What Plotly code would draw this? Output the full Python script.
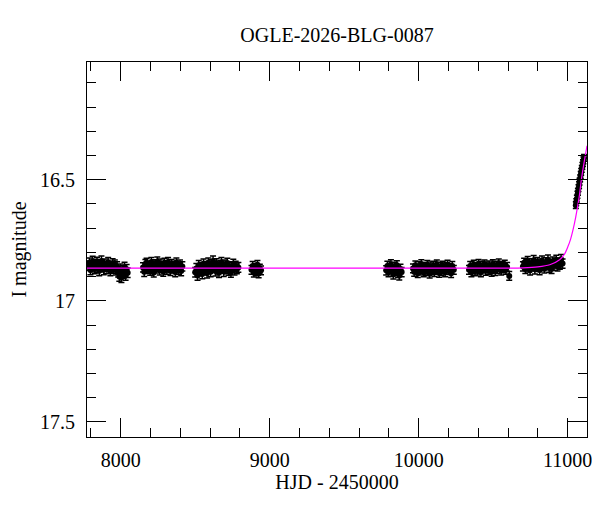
import plotly.graph_objects as go

# ---------------- data ----------------
t_s1 = [7782, 7790, 7797, 7805, 7812, 7818, 7826, 7833, 7841, 7848, 7856, 7863, 7871, 7878, 7886, 7893,
        7901, 7908, 7916, 7923, 7931, 7938, 7946, 7953, 7961, 7968, 7976, 7983, 7991, 7998, 8005, 8012,
        8019, 8026, 8033, 8040, 8047]
m_s1 = [16.855, 16.843, 16.872, 16.861, 16.836, 16.855, 16.868, 16.848, 16.840, 16.863, 16.876, 16.850,
        16.835, 16.860, 16.872, 16.847, 16.858, 16.868, 16.841, 16.856, 16.876, 16.861, 16.846, 16.867,
        16.851, 16.873, 16.859, 16.882, 16.899, 16.868, 16.904, 16.874, 16.887, 16.861, 16.895, 16.870, 16.884]

t_s2 = [8150, 8158, 8166, 8174, 8182, 8190, 8198, 8206, 8214, 8222, 8230, 8238, 8246, 8254, 8262, 8270,
        8278, 8286, 8294, 8302, 8310, 8318, 8326, 8334, 8342, 8350, 8358, 8366, 8374, 8382, 8390, 8398,
        8406, 8414]
m_s2 = [16.862, 16.880, 16.848, 16.843, 16.868, 16.856, 16.875, 16.840, 16.860, 16.883, 16.849, 16.866,
        16.838, 16.858, 16.874, 16.846, 16.863, 16.879, 16.843, 16.857, 16.871, 16.840, 16.862, 16.876,
        16.848, 16.866, 16.855, 16.881, 16.842, 16.861, 16.872, 16.850, 16.877, 16.858]

t_s3 = [8500, 8508, 8516, 8524, 8532, 8540, 8548, 8556, 8564, 8572, 8580, 8588, 8596, 8604, 8612, 8620,
        8628, 8636, 8644, 8652, 8660, 8668, 8676, 8684, 8692, 8700, 8708, 8716, 8724, 8732, 8740, 8748,
        8756, 8764, 8772, 8780, 8790]
m_s3 = [16.882, 16.866, 16.895, 16.853, 16.876, 16.862, 16.889, 16.847, 16.870, 16.858, 16.886, 16.843,
        16.866, 16.880, 16.850, 16.835, 16.861, 16.877, 16.846, 16.869, 16.884, 16.854, 16.841, 16.865,
        16.879, 16.851, 16.868, 16.844, 16.874, 16.859, 16.883, 16.862, 16.848, 16.873, 16.856, 16.868, 16.862]

t_s4 = [8878, 8886, 8894, 8902, 8910, 8918, 8926, 8934, 8942]
m_s4 = [16.872, 16.856, 16.884, 16.864, 16.878, 16.851, 16.887, 16.867, 16.874]

t_s5 = [9782, 9790, 9798, 9806, 9814, 9822, 9830, 9838, 9846, 9854, 9862, 9870, 9878, 9886]
m_s5 = [16.874, 16.856, 16.882, 16.866, 16.849, 16.879, 16.891, 16.860, 16.876, 16.853, 16.885, 16.895,
        16.868, 16.881]

t_s6 = [9962, 9970, 9978, 9986, 9994, 10002, 10010, 10018, 10026, 10034, 10042, 10050, 10058, 10066,
        10074, 10082, 10090, 10098, 10106, 10114, 10122, 10130, 10138, 10146, 10154, 10162, 10170, 10178,
        10186, 10194, 10202, 10210, 10218, 10226, 10236]
m_s6 = [16.866, 16.880, 16.853, 16.870, 16.886, 16.857, 16.875, 16.848, 16.866, 16.883, 16.860, 16.877,
        16.851, 16.868, 16.888, 16.858, 16.874, 16.855, 16.881, 16.865, 16.849, 16.872, 16.885, 16.859,
        16.876, 16.854, 16.870, 16.882, 16.861, 16.850, 16.873, 16.864, 16.886, 16.856, 16.872]

t_s7 = [10338, 10346, 10354, 10362, 10370, 10378, 10386, 10394, 10402, 10410, 10418, 10426, 10434, 10442,
        10450, 10458, 10466, 10474, 10482, 10490, 10498, 10506, 10514, 10522, 10530, 10538, 10546, 10554,
        10562, 10570, 10578, 10586, 10594, 10608]
m_s7 = [16.872, 16.856, 16.883, 16.864, 16.850, 16.878, 16.860, 16.875, 16.847, 16.868, 16.882, 16.855,
        16.866, 16.849, 16.876, 16.858, 16.873, 16.853, 16.867, 16.880, 16.848, 16.863, 16.877, 16.854,
        16.869, 16.845, 16.861, 16.875, 16.856, 16.866, 16.850, 16.872, 16.860, 16.897]

t_s8 = [10700, 10708, 10716, 10724, 10732, 10740, 10748, 10756, 10764, 10772, 10780, 10788, 10796, 10804,
        10812, 10820, 10828, 10836, 10844, 10852, 10860, 10868, 10876, 10884, 10892, 10900, 10908, 10916,
        10924, 10932, 10940, 10948, 10956, 10966]
m_s8 = [16.858, 16.843, 16.868, 16.848, 16.836, 16.862, 16.874, 16.845, 16.856, 16.832, 16.870, 16.850,
        16.840, 16.860, 16.873, 16.846, 16.834, 16.857, 16.866, 16.841, 16.853, 16.830, 16.863, 16.847,
        16.868, 16.838, 16.855, 16.844, 16.831, 16.858, 16.842, 16.851, 16.828, 16.846]

t_s9 = [11055, 11058, 11062, 11066, 11069, 11073, 11077, 11080, 11084, 11088, 11091, 11095, 11099,
        11103, 11106, 11110]
m_s9 = [16.605, 16.592, 16.578, 16.562, 16.550, 16.535, 16.522, 16.508, 16.494, 16.480, 16.468, 16.455,
        16.443, 16.431, 16.420, 16.410]

season_times = [t_s1, t_s2, t_s3, t_s4, t_s5, t_s6, t_s7, t_s8, t_s9]
season_mags = [m_s1, m_s2, m_s3, m_s4, m_s5, m_s6, m_s7, m_s8, m_s9]
season_errs = [0.020, 0.019, 0.020, 0.018, 0.019, 0.018, 0.018, 0.019, 0.014]

model_t = [7774, 8500, 9000, 9500, 10000, 10600, 10700, 10800, 10880, 10946, 10980, 11002, 11020,
           11036, 11054, 11069, 11080, 11092, 11110, 11130]
model_m = [16.865, 16.865, 16.865, 16.865, 16.865, 16.865, 16.864, 16.860, 16.851, 16.830, 16.806,
           16.776, 16.745, 16.707, 16.655, 16.603, 16.560, 16.500, 16.430, 16.360]

title_text = "OGLE-2026-BLG-0087"
x_title = "HJD - 2450000"
y_title = "I magnitude"

# ---------------- figure ----------------
FONT = "Liberation Serif"
fig = go.Figure()

for ts, ms, e in zip(season_times, season_mags, season_errs):
    fig.add_trace(go.Scatter(
        x=ts, y=ms, mode="markers",
        marker=dict(color="black", size=6),
        error_y=dict(type="constant", value=e, color="black", thickness=1.5, width=3),
        showlegend=False, hoverinfo="x+y",
    ))

fig.add_trace(go.Scatter(
    x=model_t, y=model_m, mode="lines",
    line=dict(color="#ff00ff", width=1.2, shape="spline", smoothing=0.8),
    showlegend=False,
))

axis_common = dict(
    showline=True, linecolor="black", linewidth=1, mirror="allticks",
    ticks="inside", ticklen=19, tickwidth=1, tickcolor="black",
    showgrid=False, zeroline=False, automargin=False,
    tickfont=dict(family=FONT, size=20, color="black"),
)

fig.update_xaxes(
    range=[7774, 11130], tick0=0, dtick=1000, tickformat="d", ticklabelstandoff=5,
    minor=dict(ticks="inside", ticklen=9, tickcolor="black", tickwidth=1, dtick=200, tick0=0, showgrid=False),
    title=dict(text=x_title, font=dict(family=FONT, size=20, color="black"), standoff=1),
    **axis_common,
)
fig.update_yaxes(
    range=[17.562, 16.014], tick0=0, dtick=0.5, ticklabelstandoff=7,
    minor=dict(ticks="inside", ticklen=9, tickcolor="black", tickwidth=1, dtick=0.1, tick0=0, showgrid=False),
    title=dict(text=y_title, font=dict(family=FONT, size=20, color="black"), standoff=9),
    **axis_common,
)

# the page body has an 8px margin, so margins are reduced on the left/top accordingly
fig.update_layout(
    width=600, height=512,
    margin=dict(l=79, r=21, t=54, b=83),
    paper_bgcolor="white", plot_bgcolor="white",
    title=dict(text=title_text, x=0.5, xref="paper", xanchor="center", y=1 - 27 / 512, yanchor="middle",
               yref="container", font=dict(family=FONT, size=20, color="black")),
    showlegend=False,
)

fig.write_html("out.html")
